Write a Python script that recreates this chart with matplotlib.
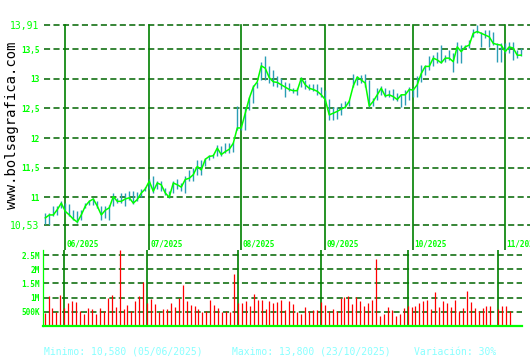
import matplotlib
matplotlib.use("Agg")
import matplotlib.pyplot as plt
import pandas as pd

# ---------------- data ----------------
dates = pd.bdate_range("2025-05-26", "2025-11-07")

close = [10.65, 10.70, 10.70, 10.79, 10.90, 10.76, 10.70, 10.63, 10.58, 10.70,
         10.85, 10.93, 10.97, 10.85, 10.70, 10.78, 10.82, 11.01, 10.93, 10.93,
         10.97, 10.99, 10.90, 10.96, 11.07, 11.14, 11.27, 11.10, 11.24, 11.21,
         11.07, 11.00, 11.24, 11.21, 11.17, 11.30, 11.32, 11.38, 11.52, 11.46,
         11.64, 11.69, 11.70, 11.83, 11.72, 11.77, 11.81, 11.91, 12.17, 12.17,
         12.42, 12.67, 12.86, 12.95, 13.22, 13.18, 13.02, 12.95, 12.94, 12.90,
         12.86, 12.82, 12.80, 12.80, 13.01, 12.90, 12.84, 12.82, 12.79, 12.73,
         12.65, 12.39, 12.42, 12.45, 12.49, 12.52, 12.62, 12.88, 13.03, 12.98,
         12.93, 12.54, 12.62, 12.73, 12.84, 12.71, 12.73, 12.70, 12.65, 12.73,
         12.73, 12.82, 12.81, 12.90, 13.09, 13.21, 13.21, 13.35, 13.32, 13.27,
         13.35, 13.35, 13.29, 13.54, 13.46, 13.54, 13.57, 13.77, 13.80, 13.77,
         13.74, 13.71, 13.60, 13.58, 13.57, 13.46, 13.54, 13.52, 13.40, 13.40]

high = [10.73, 10.73, 10.85, 10.85, 10.93, 10.90, 10.89, 10.79, 10.76, 10.79,
        10.90, 10.96, 10.99, 10.93, 10.85, 10.85, 10.87, 11.07, 10.99, 11.07,
        11.07, 11.10, 11.10, 11.08, 11.13, 11.18, 11.30, 11.35, 11.27, 11.27,
        11.15, 11.10, 11.27, 11.30, 11.24, 11.35, 11.46, 11.49, 11.63, 11.63,
        11.66, 11.72, 11.73, 11.88, 11.86, 11.91, 11.91, 11.94, 12.54, 12.20,
        12.50, 12.70, 12.90, 12.95, 13.29, 13.38, 13.21, 13.15, 13.04, 13.01,
        12.95, 12.93, 12.84, 12.84, 13.03, 12.98, 12.91, 12.91, 12.91, 12.87,
        12.81, 12.66, 12.53, 12.52, 12.60, 12.62, 12.65, 13.08, 13.05, 13.07,
        13.09, 12.98, 12.67, 12.84, 12.88, 12.84, 12.81, 12.82, 12.76, 12.75,
        12.81, 12.86, 12.84, 13.04, 13.24, 13.24, 13.38, 13.40, 13.46, 13.57,
        13.40, 13.49, 13.43, 13.63, 13.57, 13.58, 13.66, 13.84, 13.91, 13.80,
        13.83, 13.83, 13.80, 13.60, 13.60, 13.60, 13.63, 13.63, 13.49, 13.52]

low = [10.54, 10.53, 10.68, 10.70, 10.82, 10.73, 10.68, 10.62, 10.57, 10.62,
       10.82, 10.87, 10.87, 10.82, 10.62, 10.65, 10.62, 10.85, 10.90, 10.90,
       10.85, 10.96, 10.89, 10.93, 11.01, 11.10, 11.13, 11.07, 11.13, 11.10,
       11.04, 10.99, 11.07, 11.13, 11.10, 11.07, 11.27, 11.27, 11.38, 11.38,
       11.52, 11.63, 11.66, 11.69, 11.69, 11.75, 11.75, 11.77, 12.14, 12.14,
       12.14, 12.48, 12.59, 12.84, 12.98, 12.98, 12.93, 12.88, 12.87, 12.82,
       12.70, 12.79, 12.76, 12.73, 12.87, 12.82, 12.81, 12.79, 12.73, 12.70,
       12.59, 12.31, 12.31, 12.32, 12.39, 12.50, 12.54, 12.87, 12.90, 12.93,
       12.87, 12.53, 12.54, 12.65, 12.73, 12.70, 12.70, 12.65, 12.63, 12.53,
       12.56, 12.65, 12.70, 12.70, 12.95, 13.07, 13.15, 13.22, 13.26, 13.26,
       13.29, 13.32, 13.12, 13.26, 13.26, 13.52, 13.52, 13.71, 13.77, 13.53,
       13.69, 13.54, 13.57, 13.29, 13.29, 13.43, 13.43, 13.32, 13.35, 13.38]

volume_m = [0.46, 1.05, 0.62, 0.48, 1.08, 0.62, 0.80, 0.87, 0.84, 0.52,
            0.41, 0.62, 0.59, 0.41, 0.62, 0.52, 1.00, 1.08, 0.66, 2.67,
            0.59, 0.73, 0.52, 0.87, 1.05, 1.54, 0.80, 0.96, 0.76, 0.48,
            0.59, 0.59, 0.80, 0.66, 0.98, 1.44, 0.87, 0.73, 0.69, 0.59,
            0.48, 0.52, 0.91, 0.73, 0.62, 0.48, 0.52, 0.48, 1.82, 0.80,
            0.80, 0.87, 0.69, 1.12, 0.91, 0.91, 0.59, 0.87, 0.80, 0.84,
            0.91, 0.55, 0.87, 0.76, 0.48, 0.41, 0.66, 0.52, 0.55, 0.55,
            0.84, 0.73, 0.52, 0.59, 0.52, 0.98, 1.01, 1.05, 0.76, 1.01,
            0.87, 0.69, 0.80, 0.91, 2.35, 0.34, 0.41, 0.66, 0.55, 0.34,
            0.41, 0.62, 0.69, 0.66, 0.69, 0.80, 0.87, 0.91, 0.59, 1.19,
            0.66, 0.87, 0.80, 0.66, 0.91, 0.52, 0.62, 1.22, 0.84, 0.62,
            0.52, 0.62, 0.69, 0.69, 0.02, 0.59, 0.69, 0.69, 0.52, 0.02]

price_ticks = [10.53, 11, 11.5, 12, 12.5, 13, 13.5, 13.91]
price_tick_labels = ["10,53", "11", "11,5", "12", "12,5", "13", "13,5", "13,91"]
vol_ticks = [0.5, 1.0, 1.5, 2.0, 2.5]
vol_tick_labels = ["500K", "1M", "1.5M", "2M", "2.5M"]
footer = ["Minimo: 10,580 (05/06/2025)", "Maximo: 13,800 (23/10/2025)", "Variación: 30%"]

# ---------------- style ----------------
W, H = 530, 360
LIME = "#00ff00"
DKGREEN = "#006400"
MGREEN = "#008000"
TEAL = "#2a9db5"
RED = "#ff0000"
CYAN = "#88ffff"
MONO = "DejaVu Sans Mono"

fig = plt.figure(figsize=(W / 100, H / 100), dpi=100)
fig.patch.set_facecolor("white")

def box(l, t, r, b):
    return [l / W, 1 - b / H, (r - l) / W, (b - t) / H]

x = list(range(len(dates)))
month_starts = [i for i in x if i == 0 or dates[i].month != dates[i - 1].month][1:]

# ---------------- price panel ----------------
ax = fig.add_axes(box(43.5, 25, 530, 225))
ax.set_xlim(-0.45, 121.2)
ax.set_ylim(10.53, 13.91)
for s in ax.spines.values():
    s.set_visible(False)
ax.tick_params(length=0)
ax.set_xticks([])

for t in price_ticks:
    ax.axhline(t, color=DKGREEN, lw=1.1, ls=(0, (4, 2.2)), zorder=1, clip_on=False)
for m in month_starts:
    ax.axvline(m, ymin=-0.125, ymax=1.0, color=MGREEN, lw=1.2, zorder=1, clip_on=False)
    ax.text(m + 0.2, -0.095, dates[m].strftime("%m/%Y"), transform=ax.get_xaxis_transform(),
            ha="left", va="center", color=LIME, fontsize=5.6, fontweight="bold", family=MONO)
ax.plot([-0.45, -0.45], [-0.025, 1.025], transform=ax.get_yaxis_transform(),
        color=LIME, lw=1.0, clip_on=False, zorder=3)

ax.vlines(x, low, high, color=TEAL, lw=1.0, zorder=2)
ax.plot(x, close, color=LIME, lw=1.1, zorder=3)

ax.set_yticks(price_ticks)
ax.set_yticklabels(price_tick_labels)
for lab, txt in zip(ax.get_yticklabels(), price_tick_labels):
    lab.set_color(LIME)
    lab.set_family(MONO)
    if txt in ("13,91", "10,53"):
        lab.set_fontsize(7.0)
    else:
        lab.set_fontsize(5.6)
        lab.set_fontweight("bold")
ax.tick_params(axis="y", pad=3)

# ---------------- volume panel ----------------
av = fig.add_axes(box(42.7, 250, 522, 326))
av.set_xlim(-0.48, 121.0)
av.set_ylim(0, 2.68)
for s in ["top", "right"]:
    av.spines[s].set_visible(False)
av.spines["left"].set_color(LIME)
av.spines["left"].set_linewidth(0.9)
av.spines["bottom"].set_color(LIME)
av.spines["bottom"].set_linewidth(1.6)
av.tick_params(length=0)
av.set_xticks([])
for t in vol_ticks:
    av.axhline(t, color=DKGREEN, lw=1.1, ls=(0, (4, 2.2)), zorder=1)
for m in month_starts:
    av.axvline(m, color=MGREEN, lw=1.2, zorder=1)
av.vlines(x, 0, volume_m, color=RED, lw=0.9, zorder=2)
av.set_yticks(vol_ticks)
av.set_yticklabels(vol_tick_labels)
for lab in av.get_yticklabels():
    lab.set_color(LIME)
    lab.set_family(MONO)
    lab.set_fontsize(5.6)
    lab.set_fontweight("bold")
av.tick_params(axis="y", pad=2)

# ---------------- texts ----------------
fig.text(12 / W, 1 - 125 / H, "www.bolsagrafica.com", rotation=90, ha="center", va="center",
         color="black", fontsize=10, family=MONO)
for xpos, txt in zip([44, 232, 414], footer):
    fig.text(xpos / W, 1 - 352 / H, txt, ha="left", va="center", color=CYAN,
             fontsize=7.0, family=MONO)

fig.savefig("out.png", dpi=100, facecolor="white")
